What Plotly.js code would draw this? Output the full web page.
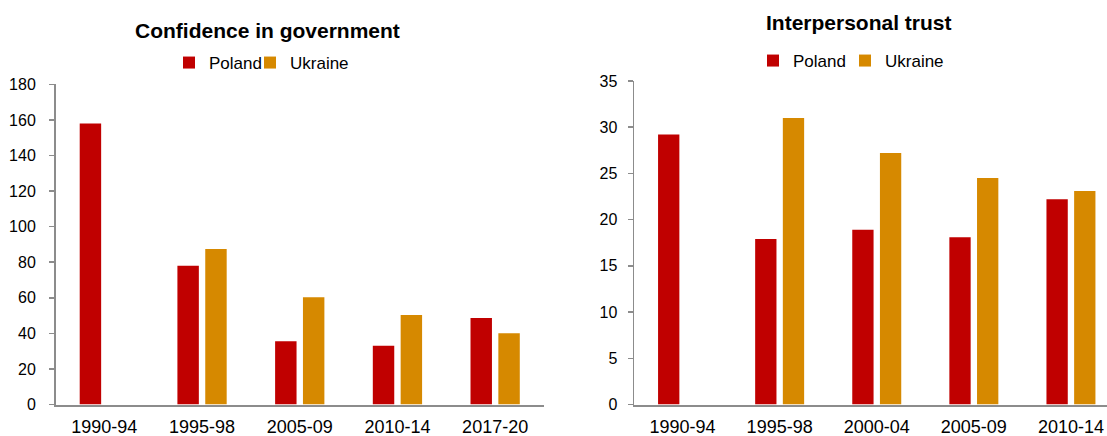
<!DOCTYPE html>
<html>
<head>
<meta charset="utf-8">
<script src="https://cdn.plot.ly/plotly-3.0.1.min.js"></script>
<style>html,body{margin:0;padding:0;background:#fff;}#chart{width:1107px;height:436px;}</style>
</head>
<body>
<div id="chart"></div>
<script>
// Confidence in government
const govCategories = ["1990-94", "1995-98", "2005-09", "2010-14", "2017-20"];
const govPoland = [158, 78, 35.5, 33, 48.7];
const govUkraine = [null, 87.5, 60.3, 50.3, 40];
const govTicks = [0, 20, 40, 60, 80, 100, 120, 140, 160, 180];

// Interpersonal trust
const trustCategories = ["1990-94", "1995-98", "2000-04", "2005-09", "2010-14"];
const trustPoland = [29.2, 17.9, 18.9, 18.1, 22.2];
const trustUkraine = [null, 31.0, 27.2, 24.5, 23.1];
const trustTicks = [0, 5, 10, 15, 20, 25, 30, 35];

const seriesNames = ["Poland", "Ukraine"];
const colPoland = "#C00000";
const colUkraine = "#D68900";

const W = 1107, H = 436;
const px = v => v / W;
const py = v => 1 - v / H;

const traces = [
  {type: "bar", name: seriesNames[0], x: govCategories, y: govPoland, marker: {color: colPoland}, xaxis: "x", yaxis: "y", legend: "legend"},
  {type: "bar", name: seriesNames[1], x: govCategories, y: govUkraine, marker: {color: colUkraine}, xaxis: "x", yaxis: "y", legend: "legend2"},
  {type: "bar", name: seriesNames[0], x: trustCategories, y: trustPoland, marker: {color: colPoland}, xaxis: "x2", yaxis: "y2", legend: "legend3"},
  {type: "bar", name: seriesNames[1], x: trustCategories, y: trustUkraine, marker: {color: colUkraine}, xaxis: "x2", yaxis: "y2", legend: "legend4"}
];

const axisColor = "#8C8C8C";
const fontFam = "Liberation Sans, Arial, sans-serif";

const xCommon = {
  type: "category", showgrid: false, zeroline: false, showline: true,
  linecolor: axisColor, linewidth: 2, ticks: "", ticklabelstandoff: 5,
  tickfont: {family: fontFam, size: 18, color: "#000"}, fixedrange: true
};
const yCommon = {
  showgrid: false, zeroline: false, showline: true, linecolor: axisColor, linewidth: 1.5,
  ticks: "outside", ticklen: 5, tickwidth: 1.5, tickcolor: axisColor,
  tickfont: {family: fontFam, size: 16, color: "#000"}, fixedrange: true
};

function leg(xpix, ypix) {
  return {orientation: "h", x: px(xpix), xanchor: "left", y: py(ypix), yanchor: "middle",
          font: {family: fontFam, size: 17, color: "#000"}, bgcolor: "rgba(0,0,0,0)", borderwidth: 0};
}

const layout = {
  width: W, height: H,
  margin: {l: 0, r: 0, t: 0, b: 0},
  paper_bgcolor: "#fff", plot_bgcolor: "#fff",
  barmode: "group", bargap: 0.43, bargroupgap: 0.23,
  font: {family: fontFam, color: "#000"},
  xaxis: Object.assign({}, xCommon, {domain: [px(55.5), px(544)], range: [-0.5, 4.5], anchor: "y"}),
  yaxis: Object.assign({}, yCommon, {domain: [py(404.5), py(84.4)], range: [0, 180], tickvals: govTicks, anchor: "x", ticklabelstandoff: 10}),
  xaxis2: Object.assign({}, xCommon, {domain: [px(634), 1], range: [-0.5, (W - 634) / 97.1 - 0.5], anchor: "y2"}),
  yaxis2: Object.assign({}, yCommon, {domain: [py(404.5), py(81)], range: [0, 35], tickvals: trustTicks, anchor: "x2", ticklabelstandoff: 7}),
  legend: leg(169, 63),
  legend2: leg(250, 63),
  legend3: leg(753, 61),
  legend4: leg(845, 61),
  annotations: [
    {text: "<b>Confidence in government</b>", xref: "paper", yref: "paper", x: px(267.5), y: py(30),
     xanchor: "center", yanchor: "middle", showarrow: false, font: {family: fontFam, size: 21, color: "#000"}},
    {text: "<b>Interpersonal trust</b>", xref: "paper", yref: "paper", x: px(859), y: py(22),
     xanchor: "center", yanchor: "middle", showarrow: false, font: {family: fontFam, size: 21, color: "#000"}}
  ],
  showlegend: true
};

Plotly.newPlot("chart", traces, layout, {displayModeBar: false, staticPlot: true});
</script>
</body>
</html>
